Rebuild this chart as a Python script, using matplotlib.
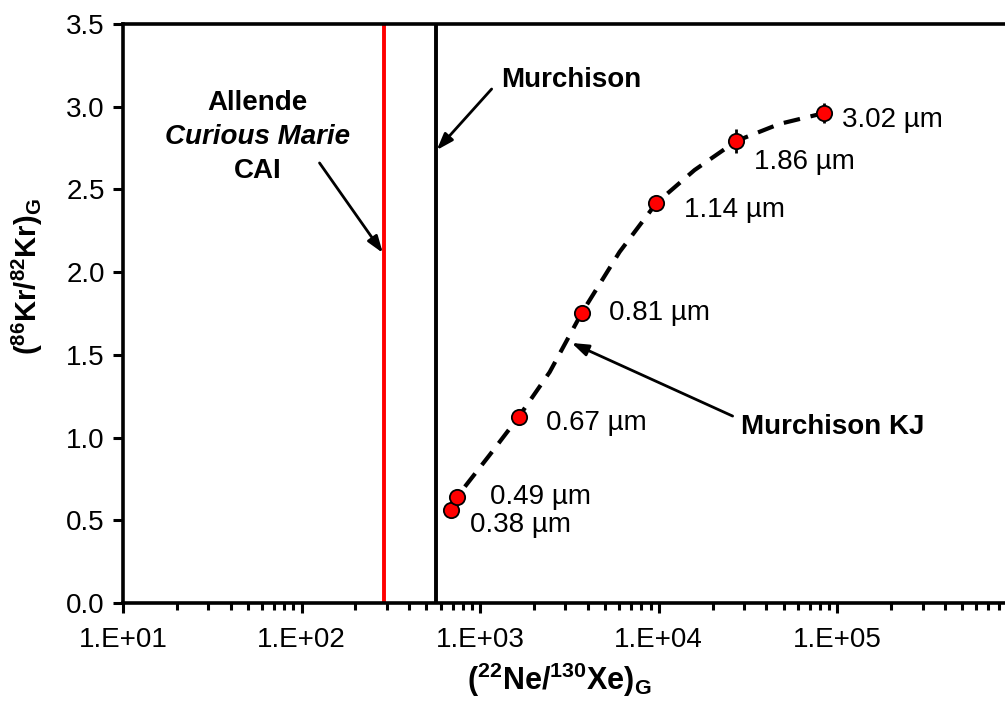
import matplotlib
matplotlib.use("Agg")
import matplotlib.pyplot as plt
from matplotlib.ticker import FixedLocator, FixedFormatter, LogLocator, NullFormatter

plt.rcParams['font.family'] = ['Liberation Sans', 'DejaVu Sans']
plt.rcParams['mathtext.fontset'] = 'custom'
plt.rcParams['mathtext.rm'] = 'Liberation Sans'
plt.rcParams['mathtext.bf'] = 'Liberation Sans:bold'
plt.rcParams['mathtext.it'] = 'Liberation Sans:italic'

# ---- data ----
grain_sizes = ["0.38 µm", "0.49 µm", "0.67 µm", "0.81 µm", "1.14 µm", "1.86 µm", "3.02 µm"]
ne_xe = [684, 740, 1640, 3700, 9700, 27200, 84500]
kr_ratio = [0.562, 0.641, 1.124, 1.753, 2.418, 2.793, 2.962]
kr_err = [0.0, 0.0, 0.0, 0.0, 0.03, 0.073, 0.06]

curve_x = [684, 740, 1130, 1640, 2450, 3700, 6030, 9700, 15850, 27200, 47400, 84500]
curve_y = [0.562, 0.641, 0.895, 1.124, 1.396, 1.753, 2.122, 2.418, 2.617, 2.793, 2.896, 2.962]

allende_x = 288
murchison_x = 564

x_ticks = [1e1, 1e2, 1e3, 1e4, 1e5]
x_tick_labels = ["1.E+01", "1.E+02", "1.E+03", "1.E+04", "1.E+05"]
y_ticks = [0.0, 0.5, 1.0, 1.5, 2.0, 2.5, 3.0, 3.5]
y_tick_labels = ["0.0", "0.5", "1.0", "1.5", "2.0", "2.5", "3.0", "3.5"]

# ---- figure ----
W, H = 1005, 702
fig = plt.figure(figsize=(W / 100, H / 100), dpi=100)
ax_left, ax_right, ax_top, ax_bottom = 123, 1016, 24, 603
ax = fig.add_axes([ax_left / W, 1 - ax_bottom / H, (ax_right - ax_left) / W, (ax_bottom - ax_top) / H])
ax.set_xscale('log')
ax.set_xlim(1e1, 1e6)
ax.set_ylim(0, 3.5)

for s in ['left', 'bottom', 'top', 'right']:
    ax.spines[s].set_linewidth(2.6)

ax.xaxis.set_major_locator(FixedLocator(x_ticks))
ax.xaxis.set_major_formatter(FixedFormatter(x_tick_labels))
ax.xaxis.set_minor_locator(LogLocator(base=10, subs=range(2, 10)))
ax.xaxis.set_minor_formatter(NullFormatter())
ax.yaxis.set_major_locator(FixedLocator(y_ticks))
ax.yaxis.set_major_formatter(FixedFormatter(y_tick_labels))

ax.tick_params(axis='both', which='major', direction='out', length=7, width=2.2,
               labelsize=20, pad=6)
ax.tick_params(axis='x', which='minor', direction='out', length=5, width=2.2)
ax.tick_params(axis='x', which='major', pad=10)
ax.tick_params(top=False, right=False)

# vertical reference lines
ax.axvline(allende_x, color='#ff0000', lw=2.8, zorder=2)
ax.axvline(murchison_x, color='black', lw=2.8, zorder=2)

# dashed trend
ax.plot(curve_x, curve_y, color='black', lw=3.0, dashes=(4.0, 2.6), zorder=3)

# data points
ax.errorbar(ne_xe, kr_ratio, yerr=kr_err, fmt='none', ecolor='black', elinewidth=2.0,
            capsize=0, zorder=4)
ax.plot(ne_xe, kr_ratio, 'o', ms=11, mfc='#ff0000', mec='black', mew=1.3, zorder=5)

label_offsets = [(14, -11), (24, 0), (20, -4), (20, 0), (20, -5), (13, -15), (13, -5)]
for x, y, t, (dx, dy) in zip(ne_xe, kr_ratio, grain_sizes, label_offsets):
    ax.annotate(t, (x, y), xytext=(dx, dy), textcoords='offset points',
                ha='left', va='center', fontsize=20)

arrow_kw = dict(arrowstyle='-|>,head_length=1.0,head_width=0.35', color='black', lw=2.0,
                shrinkA=0, shrinkB=0)

# Murchison
ax.text(3250, 3.161, "Murchison", ha='center', va='center', fontsize=20, fontweight='bold')
ax.annotate('', xy=(571, 2.738), xytext=(1159, 3.107), arrowprops=arrow_kw)

# Allende
ax.text(56.9, 3.022, "Allende", ha='center', va='center', fontsize=20, fontweight='bold')
ax.text(56.9, 2.817, "Curious Marie", ha='center', va='center', fontsize=20,
        fontweight='bold', fontstyle='italic')
ax.text(56.9, 2.611, "CAI", ha='center', va='center', fontsize=20, fontweight='bold')
ax.annotate('', xy=(285, 2.116), xytext=(126, 2.66), arrowprops=arrow_kw)

# Murchison KJ
ax.text(93800, 1.064, "Murchison KJ", ha='center', va='center', fontsize=20, fontweight='bold')
ax.annotate('', xy=(3250, 1.572), xytext=(25900, 1.130), arrowprops=arrow_kw)

# axis labels
fig.text(559 / W, 1 - 680 / H, r'($\mathbf{^{22}}$Ne/$\mathbf{^{130}}$Xe)$\mathbf{_G}$',
         ha='center', va='center', fontsize=22, fontweight='bold')
fig.text(27 / W, 1 - 277 / H, r'($\mathbf{^{86}}$Kr/$\mathbf{^{82}}$Kr)$\mathbf{_G}$',
         ha='center', va='center', fontsize=21, fontweight='bold', rotation=90)

fig.savefig('out.png', dpi=100)
